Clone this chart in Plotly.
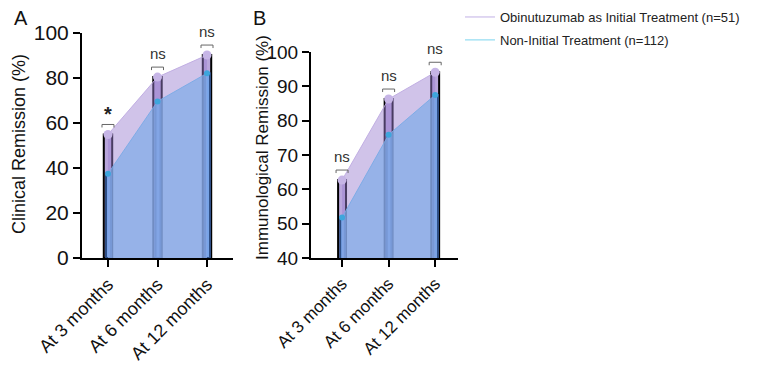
import plotly.graph_objects as go

categories = ["At 3 months", "At 6 months", "At 12 months"]
clinical_obi = [54.9, 80.4, 90.2]
clinical_non = [37.5, 69.6, 82.1]
immuno_obi = [62.7, 86.3, 94.1]
immuno_non = [51.8, 75.9, 87.5]
clinical_sig = ["*", "ns", "ns"]
immuno_sig = ["ns", "ns", "ns"]
series_names = ["Obinutuzumab as Initial Treatment (n=51)", "Non-Initial Treatment (n=112)"]

W, H = 769, 365
FONT = "Liberation Sans, Arial, sans-serif"

PURPLE_FILL = "rgba(155,128,208,0.47)"
BLUE_FILL = "rgba(128,172,232,0.72)"

fig = go.Figure()

panels = [
    dict(x="x", y="y", obi=clinical_obi, non=clinical_non, sig=clinical_sig),
    dict(x="x2", y="y2", obi=immuno_obi, non=immuno_non, sig=immuno_sig),
]

for p in panels:
    # bars
    fig.add_trace(go.Bar(x=categories, y=p["obi"], xaxis=p["x"], yaxis=p["y"], width=0.17,
                         marker=dict(color="#b9a6dc", line=dict(color="#000000", width=2)),
                         showlegend=False, hoverinfo="skip", offset=-0.085))
    fig.add_trace(go.Bar(x=categories, y=p["non"], xaxis=p["x"], yaxis=p["y"], width=0.1,
                         marker=dict(color="#7aa6ea", line=dict(color="#2f4f86", width=2)),
                         showlegend=False, hoverinfo="skip", offset=-0.04))
    # areas
    fig.add_trace(go.Scatter(x=categories, y=p["obi"], xaxis=p["x"], yaxis=p["y"], mode="lines+markers",
                             fill="tozeroy", fillcolor=PURPLE_FILL,
                             line=dict(color="rgba(190,170,225,0.9)", width=1),
                             marker=dict(color="#c6b5e6", size=9),
                             showlegend=False, hoverinfo="skip"))
    fig.add_trace(go.Scatter(x=categories, y=p["non"], xaxis=p["x"], yaxis=p["y"], mode="lines+markers",
                             fill="tozeroy", fillcolor=BLUE_FILL,
                             line=dict(color="rgba(120,170,230,0.9)", width=1),
                             marker=dict(color="#3ea6dc", size=6),
                             showlegend=False, hoverinfo="skip"))

# legend entries
fig.add_trace(go.Scatter(x=[None], y=[None], mode="lines", name=series_names[0], legendgroup="g1",
                         line=dict(color="#d6cbee", width=1.5)))
fig.add_trace(go.Scatter(x=[None], y=[None], mode="lines", name=series_names[1], legendgroup="g2",
                         line=dict(color="#a6e2f4", width=1.5)))

shapes = []
annotations = []
for p in panels:
    for c, v, s in zip(categories, p["obi"], p["sig"]):
        shapes.append(dict(type="path", xref=p["x"], yref=p["y"], xsizemode="pixel", ysizemode="pixel",
                           xanchor=c, yanchor=v, path="M-6,7 L-6,10 L6,10 L6,7",
                           line=dict(color="#666666", width=1)))
        if s == "*":
            annotations.append(dict(x=c, y=v, xref=p["x"], yref=p["y"], text="<b>*</b>", showarrow=False,
                                    yanchor="middle", yshift=20, font=dict(size=20, color="#222222", family=FONT)))
        else:
            annotations.append(dict(x=c, y=v, xref=p["x"], yref=p["y"], text=s, showarrow=False,
                                    yanchor="middle", yshift=24, font=dict(size=15, color="#333333", family=FONT)))

annotations += [
    dict(x=12 / W, y=1 - 18 / H, xref="paper", yref="paper", text="A", showarrow=False,
         xanchor="left", yanchor="middle", font=dict(size=20, color="#111111", family=FONT)),
    dict(x=251 / W, y=1 - 18 / H, xref="paper", yref="paper", text="B", showarrow=False,
         xanchor="left", yanchor="middle", font=dict(size=20, color="#111111", family=FONT)),
    dict(x=19 / W, y=1 - 144 / H, xref="paper", yref="paper", text="Clinical Remission (%)", showarrow=False,
         textangle=-90, xanchor="center", yanchor="middle", font=dict(size=18, color="#111111", family=FONT)),
    dict(x=262 / W, y=1 - 148 / H, xref="paper", yref="paper", text="Immunological Remission (%)", showarrow=False,
         textangle=-90, xanchor="center", yanchor="middle", font=dict(size=17, color="#111111", family=FONT)),
]

axis_common = dict(showgrid=False, zeroline=False, showline=True, linecolor="#000000", linewidth=2,
                   ticks="outside", ticklen=7, tickwidth=2, tickcolor="#000000", automargin=False)

fig.update_layout(
    width=W, height=H,
    margin=dict(l=0, r=0, t=0, b=0, autoexpand=False),
    paper_bgcolor="white", plot_bgcolor="rgba(0,0,0,0)",
    barmode="overlay",
    font=dict(family=FONT, color="#111111"),
    xaxis=dict(domain=[82 / W, 233 / W], anchor="y", type="category", range=[-0.525, 2.525],
               tickangle=-45, tickfont=dict(size=18), **axis_common),
    yaxis=dict(domain=[1 - 258 / H, 1 - 33 / H], anchor="x", range=[0, 100], dtick=20,
               tickfont=dict(size=21), **axis_common),
    xaxis2=dict(domain=[311 / W, 458 / W], anchor="y2", type="category", range=[-0.667, 2.49],
                tickangle=-45, tickfont=dict(size=17), **axis_common),
    yaxis2=dict(domain=[1 - 258 / H, 1 - 52 / H], anchor="x2", range=[40, 100], dtick=10,
                tickfont=dict(size=19), **axis_common),
    legend=dict(x=460 / W, y=1 - 2 / H, xanchor="left", yanchor="top", bgcolor="rgba(0,0,0,0)",
                font=dict(size=13, color="#222222", family=FONT), tracegroupgap=3, traceorder="grouped"),
    shapes=shapes,
    annotations=annotations,
    showlegend=True,
)

fig.write_html("out.html", config={"displayModeBar": False},
               post_script="document.body.style.margin='0';")
